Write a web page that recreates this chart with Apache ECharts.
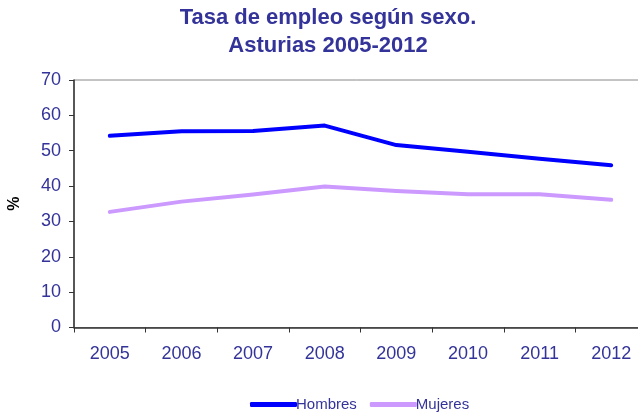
<!DOCTYPE html>
<html>
<head>
<meta charset="utf-8">
<script src="https://cdn.jsdelivr.net/npm/echarts@6/dist/echarts.min.js"></script>
<style>html,body{margin:0;padding:0;background:#fff}#c{width:638px;height:414px}</style>
</head>
<body>
<div id="c"></div>
<script>
const years = ['2005','2006','2007','2008','2009','2010','2011','2012'];
const hombres = [54.2, 55.5, 55.6, 57.1, 51.6, 49.7, 47.7, 45.9];
const mujeres = [32.7, 35.6, 37.6, 39.9, 38.6, 37.7, 37.7, 36.1];
const yTicks = [0, 10, 20, 30, 40, 50, 60, 70];

const chart = echarts.init(document.getElementById('c'), null, {renderer: 'canvas'});
const txt = '#333399';
const ff = 'Liberation Sans, Arial';
chart.setOption({
  animation: false,
  title: {
    text: 'Tasa de empleo según sexo.\nAsturias 2005-2012',
    left: 323, top: -1, textAlign: 'center',
    textStyle: {color: txt, fontFamily: ff, fontSize: 22, fontWeight: 'bold', lineHeight: 28}
  },
  legend: {
    top: 392, left: 245,
    itemWidth: 47, itemHeight: 5, itemGap: 13,
    icon: 'roundRect',
    textStyle: {color: txt, fontFamily: ff, fontSize: 15, padding: [0,0,0,-6]},
    data: ['Hombres', 'Mujeres']
  },
  grid: {left: 74, top: 80, width: 573, height: 247.5, show: true, borderColor: '#888', borderWidth: 1, outerBoundsMode: 'none', containLabel: false},
  xAxis: {
    type: 'category', data: years, boundaryGap: true,
    axisLine: {lineStyle: {color: '#333', width: 1.5}},
    axisTick: {show: true, length: 5, lineStyle: {color: '#333'}},
    axisLabel: {color: txt, fontFamily: ff, fontSize: 18, margin: 18}
  },
  yAxis: {
    type: 'value', min: yTicks[0], max: yTicks[yTicks.length-1], interval: 10,
    name: '%', nameLocation: 'middle', nameGap: 51, nameRotate: 90,
    nameTextStyle: {color: '#000', fontFamily: ff, fontSize: 16, fontWeight: 'bold'},
    axisLine: {show: true, lineStyle: {color: '#333', width: 1.5}},
    axisTick: {show: true, length: 5, lineStyle: {color: '#333'}},
    splitLine: {show: false},
    axisLabel: {color: txt, fontFamily: ff, fontSize: 18, margin: 13}
  },
  series: [
    {name: 'Hombres', type: 'line', data: hombres, symbol: 'none', lineStyle: {color: '#0000FF', width: 4, cap: 'round', join: 'round'}, itemStyle: {color: '#0000FF'}},
    {name: 'Mujeres', type: 'line', data: mujeres, symbol: 'none', lineStyle: {color: '#CC99FF', width: 4, cap: 'round', join: 'round'}, itemStyle: {color: '#CC99FF'}}
  ]
});
</script>
</body>
</html>
